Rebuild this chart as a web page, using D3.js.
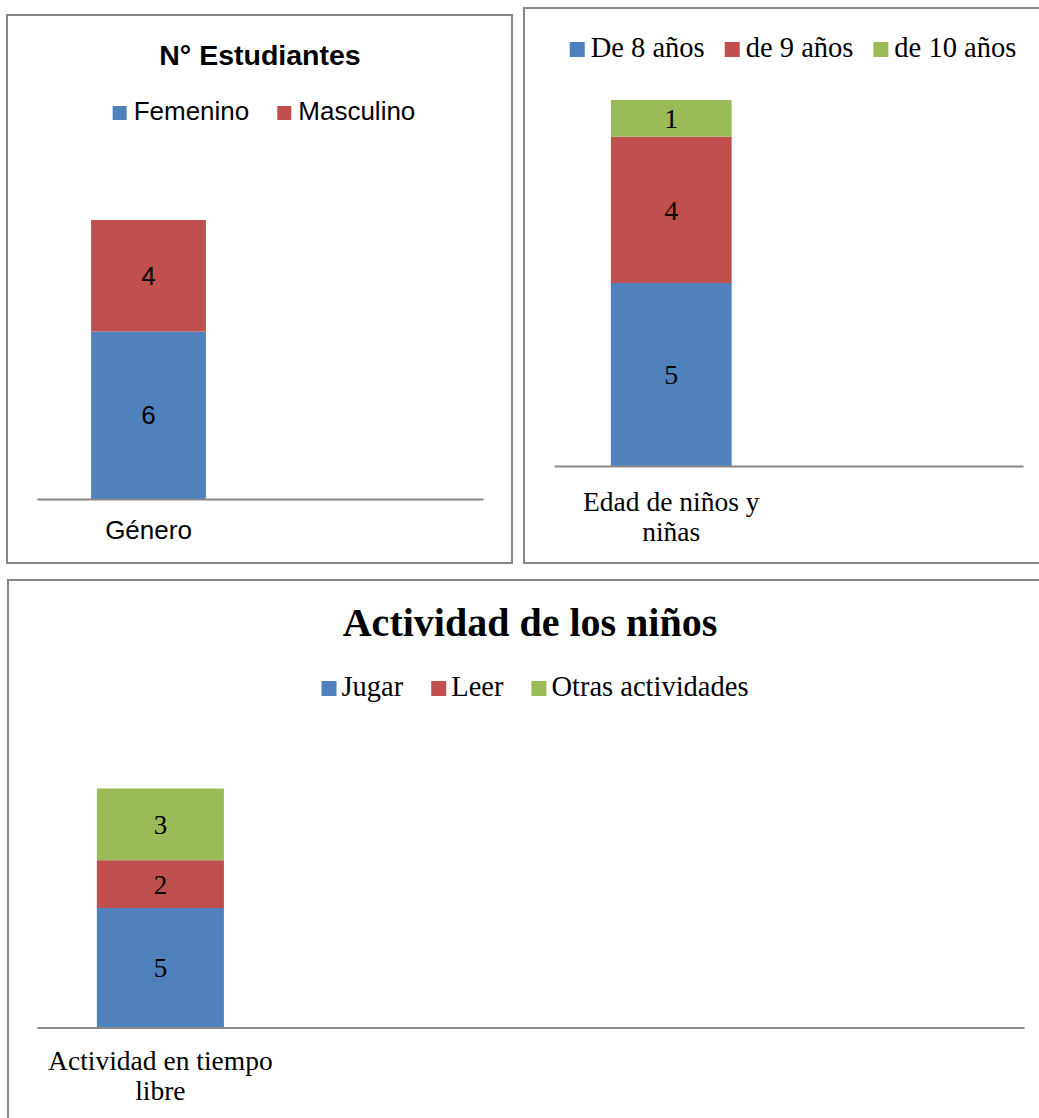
<!DOCTYPE html>
<html>
<head>
<meta charset="utf-8">
<script src="https://cdn.jsdelivr.net/npm/d3@7"></script>
<style>
  body { margin: 0; background: #fff; }
</style>
</head>
<body>
<div id="chart"></div>
<script>
// panel 1 - genero
const genderCategories = ["Género"]
const genderSeries = ["Femenino", "Masculino"]
const femenino = [6]
const masculino = [4]

// panel 2 - edad
const ageCategories = ["Edad de niños y niñas"]
const ageSeries = ["De 8 años", "de 9 años", "de 10 años"]
const age8 = [5]
const age9 = [4]
const age10 = [1]

// panel 3 - actividad
const activityCategories = ["Actividad en tiempo libre"]
const activitySeries = ["Jugar", "Leer", "Otras actividades"]
const jugar = [5]
const leer = [2]
const otras = [3]

const colors = ["#4F81BD", "#C0504D", "#9BBB59"]
const SANS = '"Liberation Sans", Arial, sans-serif'
const SERIF = '"Liberation Serif", "Times New Roman", serif'

const width = 1039, height = 1118

const svg = d3.select("#chart")
    .append("svg")
    .attr("width", width)
    .attr("height", height)

const panels = [
    {
        box: [7, 15, 505, 548],
        title: "N° Estudiantes", titleX: 260, titleY: 65,
        titleFont: SANS, titleSize: 28.5,
        categories: genderCategories, series: genderSeries, values: [femenino, masculino],
        font: SANS, legendSize: 26, legendX: 264, legendY: 120, sq: 14, sqGap: 7, itemGap: 28,
        labelSize: 26, catSize: 26, catPad: 22, lineH: 30,
        x0: 37, x1: 483, base: 499, top: 220, slots: 2
    },
    {
        box: [524, 8, 530, 555],
        title: null,
        categories: ageCategories, series: ageSeries, values: [age8, age9, age10],
        font: SERIF, legendSize: 28.5, legendX: 793, legendY: 57, sq: 15, sqGap: 6, itemGap: 20,
        labelSize: 28, catSize: 27.5, catPad: 25, lineH: 30,
        x0: 554, x1: 1023, base: 466, top: 100, slots: 2
    },
    {
        box: [8, 580, 1050, 560],
        title: "Actividad de los niños", titleX: 530, titleY: 636,
        titleFont: SERIF, titleSize: 40,
        categories: activityCategories, series: activitySeries, values: [jugar, leer, otras],
        font: SERIF, legendSize: 28.5, legendX: 535, legendY: 696, sq: 15, sqGap: 5, itemGap: 28,
        labelSize: 27, catSize: 27.5, catPad: 23, lineH: 30,
        x0: 37, x1: 1024, base: 1027.5, top: 788.5, slots: 4
    }
]

panels.forEach(drawPanel)

function drawPanel(p) {
    const g = svg.append("g")

    g.append("rect")
        .attr("x", p.box[0]).attr("y", p.box[1])
        .attr("width", p.box[2]).attr("height", p.box[3])
        .attr("fill", "#fff")
        .attr("stroke", "#878787")
        .attr("stroke-width", 2)

    if (p.title) {
        g.append("text")
            .attr("x", p.titleX).attr("y", p.titleY)
            .attr("text-anchor", "middle")
            .style("font-family", p.titleFont)
            .style("font-size", p.titleSize + "px")
            .style("font-weight", "bold")
            .text(p.title)
    }

    // rows for the stack
    const rows = p.categories.map((c, i) => {
        const row = { cat: c }
        p.series.forEach((s, j) => { row[s] = p.values[j][i] })
        return row
    })
    const stacked = d3.stack().keys(p.series)(rows)
    const total = d3.max(rows, r => d3.sum(p.series, s => r[s]))

    // empty category slots the way the spreadsheet leaves them
    const slots = p.categories.slice()
    while (slots.length < p.slots) slots.push("__blank" + slots.length)

    const x = d3.scaleBand().domain(slots).range([p.x0, p.x1])
    const y = d3.scaleLinear().domain([0, total]).range([p.base, p.top])
    const bw = x.bandwidth() * 0.515

    stacked.forEach((layer, j) => {
        g.append("g")
            .attr("fill", colors[j])
            .selectAll("rect")
            .data(layer)
            .enter()
            .append("rect")
            .attr("x", d => x(d.data.cat) + (x.bandwidth() - bw) / 2)
            .attr("y", d => y(d[1]))
            .attr("width", bw)
            .attr("height", d => y(d[0]) - y(d[1]))

        g.append("g")
            .selectAll("text")
            .data(layer)
            .enter()
            .append("text")
            .attr("x", d => x(d.data.cat) + x.bandwidth() / 2)
            .attr("y", d => (y(d[0]) + y(d[1])) / 2)
            .attr("dy", "0.35em")
            .attr("text-anchor", "middle")
            .style("font-family", p.font)
            .style("font-size", p.labelSize + "px")
            .text(d => d[1] - d[0])
    })

    // category axis
    const axis = g.append("g")
        .attr("transform", "translate(0," + p.base + ")")
        .call(d3.axisBottom(x)
            .tickSize(0)
            .tickSizeOuter(0)
            .tickPadding(p.catPad)
            .tickFormat(d => d.startsWith("__blank") ? "" : d))
    axis.attr("font-family", null).attr("font-size", null)
    axis.select(".domain")
        .attr("stroke", "#898989")
        .attr("stroke-width", 1.8)
    axis.selectAll("text")
        .attr("fill", "#000")
        .style("font-family", p.font)
        .style("font-size", p.catSize + "px")
        .call(wrap, x.bandwidth(), p.catSize, p.lineH)

    // legend centred above the plot
    const leg = g.append("g")
    const items = leg.selectAll("g")
        .data(p.series)
        .enter()
        .append("g")
    items.append("rect")
        .attr("width", p.sq).attr("height", p.sq)
        .attr("y", p.legendY - p.sq)
        .attr("fill", (d, i) => colors[i])
    items.append("text")
        .attr("x", p.sq + p.sqGap)
        .attr("y", p.legendY)
        .style("font-family", p.font)
        .style("font-size", p.legendSize + "px")
        .text(d => d)
    let offs = 0
    const widths = []
    items.each(function () {
        const w = p.sq + p.sqGap + d3.select(this).select("text").node().getComputedTextLength()
        widths.push(offs)
        offs += w + p.itemGap
    })
    const legW = offs - p.itemGap
    items.attr("transform", (d, i) => "translate(" + (p.legendX - legW / 2 + widths[i]) + ",0)")
}

function wrap(texts, maxW, fs, lineH) {
    texts.each(function () {
        const text = d3.select(this)
        const words = text.text().split(/\s+/)
        const y0 = +text.attr("y")
        text.text(null)
        let line = []
        let lineNo = 0
        let tspan = text.append("tspan").attr("x", 0).attr("y", y0).attr("dy", fs * 0.71)
        words.forEach(w => {
            line.push(w)
            tspan.text(line.join(" "))
            if (tspan.node().getComputedTextLength() > maxW && line.length > 1) {
                line.pop()
                tspan.text(line.join(" "))
                line = [w]
                lineNo++
                tspan = text.append("tspan")
                    .attr("x", 0).attr("y", y0)
                    .attr("dy", fs * 0.71 + lineNo * lineH)
                    .text(w)
            }
        })
    })
}
</script>
</body>
</html>
